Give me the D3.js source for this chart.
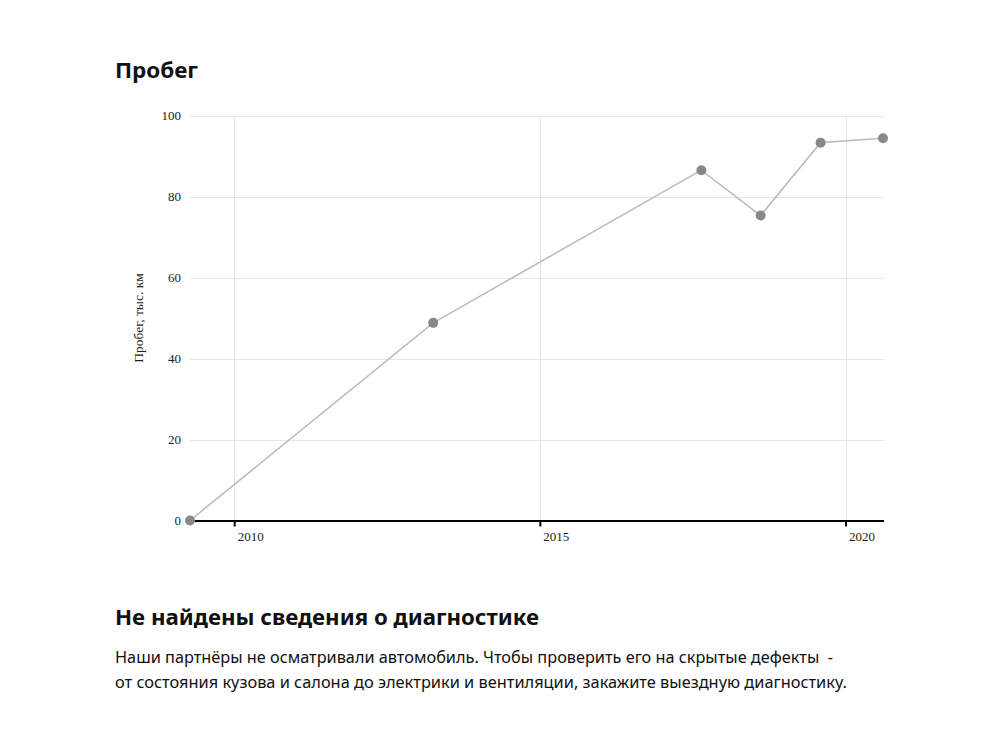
<!DOCTYPE html>
<html><head><meta charset="utf-8">
<script src="https://cdn.jsdelivr.net/npm/d3@7"></script>
<style>
body{margin:0;background:#fff;}
svg{display:block;}
</style></head>
<body>
<svg id="c" width="1000" height="747"></svg>
<script>
const dates = ["2009-04-12","2013-04-04","2017-08-23","2018-08-12","2019-08-05","2020-08-12"];
const mileage = [0, 48.8, 86.5, 75.3, 93.3, 94.4];
const yTicks = [0, 20, 40, 60, 80, 100];
const xTickYears = [2010, 2015, 2020];
const title = "Пробег";
const yTitle = "Пробег, тыс. км";
const heading = "Не найдены сведения о диагностике";
const paragraph = ["Наши партнёры не осматривали автомобиль. Чтобы проверить его на скрытые дефекты  -",
                   "от состояния кузова и салона до электрики и вентиляции, закажите выездную диагностику."];

(function(){
const svg = d3.select("#c");
const parse = d3.timeParse("%Y-%m-%d");
const data = dates.map((d,i)=>({date:parse(d), v:mileage[i]}));

const pl=190, pr=883, pt=115.5, pb=520.5;
const x = d3.scaleTime().domain(d3.extent(data,d=>d.date)).range([pl,pr]);
const y = d3.scaleLinear().domain([0,100]).range([pb,pt]);

const sans = "'Noto Sans', 'Open Sans', sans-serif";
const serif = "'Liberation Serif', 'DejaVu Serif', serif";

svg.append("text").attr("x",115).attr("y",78).text(title)
  .attr("font-family",sans).attr("font-weight",700).attr("font-size",22).attr("fill","#111")
  .attr("textLength",83).attr("lengthAdjust","spacingAndGlyphs");

const g = svg.append("g");
g.selectAll("line.hg").data(yTicks.filter(t=>t>0)).join("line")
  .attr("x1",pl).attr("x2",pr+1).attr("y1",d=>Math.round(y(d))+0.5).attr("y2",d=>Math.round(y(d))+0.5)
  .attr("stroke","#e6e6e6").attr("stroke-width",1);
const xTickDates = xTickYears.map(yr=>new Date(yr,0,1));
g.selectAll("line.vg").data(xTickDates).join("line")
  .attr("x1",d=>Math.round(x(d))+0.5).attr("x2",d=>Math.round(x(d))+0.5).attr("y1",pt).attr("y2",pb)
  .attr("stroke","#e6e6e6").attr("stroke-width",1);

g.selectAll("text.yl").data(yTicks).join("text")
  .attr("x",181).attr("y",d=>y(d)+4.5).attr("text-anchor","end")
  .attr("font-family",serif).attr("font-size",13).attr("fill","#222").text(d=>d);

const xAxis = d3.axisBottom(x).tickValues(xTickDates).tickFormat(d3.timeFormat("%Y")).tickSize(6).tickSizeOuter(0);
const ax = svg.append("g").attr("transform",`translate(0,${pb})`).call(xAxis);
ax.select(".domain").attr("stroke","#000").attr("stroke-width",2).attr("d",`M${pl},0.5H${pr+1}`);
ax.selectAll(".tick line").attr("stroke","#000").attr("stroke-width",2);
ax.selectAll(".tick text").attr("font-family",serif).attr("font-size",13).attr("fill","#222")
  .attr("text-anchor","start").attr("x",3).attr("y",11);

svg.append("text").attr("transform",`translate(143,${(pt+pb)/2}) rotate(-90)`)
  .attr("text-anchor","middle").attr("font-family",serif).attr("font-size",13.5).attr("fill","#222").text(yTitle);

const line = d3.line().x(d=>x(d.date)).y(d=>y(d.v));
svg.append("path").datum(data).attr("d",line).attr("fill","none").attr("stroke","#bdbdbd").attr("stroke-width",1.6);
svg.selectAll("circle.p").data(data).join("circle")
  .attr("cx",d=>x(d.date)).attr("cy",d=>y(d.v)).attr("r",5).attr("fill","#888");

svg.append("text").attr("x",115).attr("y",625).text(heading)
  .attr("font-family",sans).attr("font-weight",700).attr("font-size",21.5).attr("fill","#111")
  .attr("textLength",424).attr("lengthAdjust","spacingAndGlyphs");
const paraLen = [718, 732];
svg.selectAll("text.para").data(paragraph).join("text")
  .attr("x",115).attr("y",(d,i)=>663+i*25).text(d=>d)
  .attr("font-family",sans).attr("font-size",15.5).attr("fill","#111").style("white-space","pre")
  .attr("textLength",(d,i)=>paraLen[i]).attr("lengthAdjust","spacingAndGlyphs");
})();
</script>
</body></html>
